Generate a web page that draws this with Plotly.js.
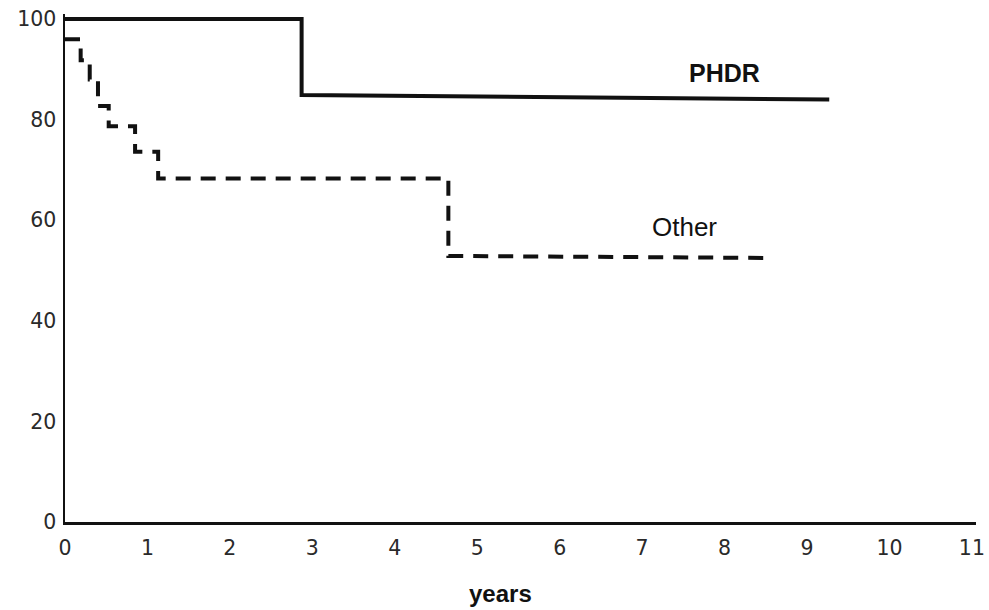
<!DOCTYPE html>
<html>
<head>
<meta charset="utf-8">
<script src="https://cdn.plot.ly/plotly-3.0.1.min.js"></script>
<style>html,body{margin:0;padding:0;background:#fff;}#chart{width:989px;height:610px;}</style>
</head>
<body>
<div id="chart"></div>
<script>
// PHDR survival curve (years, percent)
const phdrYears = [0, 2.87, 2.87, 9.27];
const phdrValues = [100, 100, 84.9, 84.0];
// Other survival curve (step points)
const otherYears = [0, 0.19, 0.19, 0.30, 0.30, 0.40, 0.40, 0.53, 0.53, 0.85, 0.85, 1.13, 1.13, 4.65, 4.65, 8.55];
const otherValues = [96, 96, 91.8, 91.8, 88, 88, 82.7, 82.7, 78.7, 78.7, 73.6, 73.6, 68.3, 68.3, 52.9, 52.5];
const xTicks = [0,1,2,3,4,5,6,7,8,9,10,11];
const yTicks = [0,20,40,60,80,100];
const seriesLabels = [{text:'PHDR', x:8.0, y:89.2, bold:true}, {text:'Other', x:7.52, y:58.6, bold:false}];
const xTitle = 'years';

const data = [
  {x: phdrYears, y: phdrValues, mode:'lines', line:{color:'#111', width:4, shape:'linear'}, name:'PHDR', hoverinfo:'skip'},
  {x: otherYears, y: otherValues, mode:'lines', line:{color:'#111', width:4, dash:'15px,10px', shape:'linear'}, name:'Other', hoverinfo:'skip'}
];

const tickFont = {size:20.5, family:'DejaVu Sans, sans-serif', color:'#2a2a2a'};
const annotations = seriesLabels.map(l => ({
  x:l.x, y:l.y, xref:'x', yref:'y', showarrow:false,
  text: l.bold ? '<b>'+l.text+'</b>' : l.text,
  font:{size: l.bold ? 25 : 26, family:'Liberation Sans, Arial, sans-serif', color:'#111'}
}));
annotations.push({
  x:0.4775, y:-0.14, xref:'paper', yref:'paper', showarrow:false,
  xanchor:'center', yanchor:'middle',
  text:'<b>'+xTitle+'</b>',
  font:{size:24, family:'Liberation Sans, Arial, sans-serif', color:'#111'}
});

const layout = {
  width: 989, height: 610,
  margin: {l:65, r:13, t:14, b:88},
  paper_bgcolor:'#fff', plot_bgcolor:'#fff',
  showlegend:false,
  font:{family:'DejaVu Sans, sans-serif', color:'#222'},
  xaxis:{
    range:[0, 11.05], tickvals:xTicks, ticktext:xTicks.map(String),
    showgrid:false, zeroline:false, showline:true, linecolor:'#111', linewidth:2.5,
    ticks:'', ticklabelstandoff:6, tickfont:tickFont
  },
  yaxis:{
    range:[0, 101], tickvals:yTicks, ticktext:yTicks.map(String),
    showgrid:false, zeroline:false, showline:true, linecolor:'#111', linewidth:2.5,
    ticks:'', ticklabelstandoff:2, tickfont:tickFont
  },
  annotations: annotations
};

Plotly.newPlot('chart', data, layout, {displayModeBar:false, staticPlot:true});
</script>
</body>
</html>
